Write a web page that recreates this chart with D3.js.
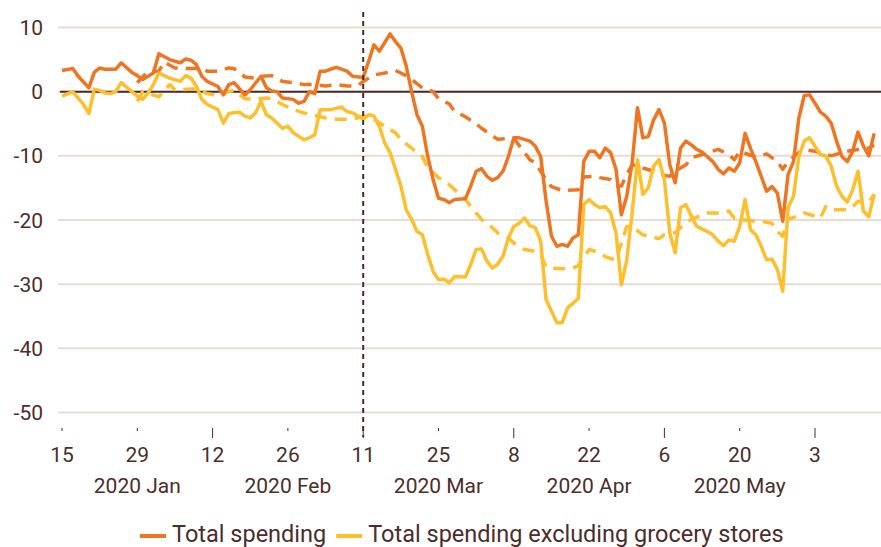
<!DOCTYPE html>
<html>
<head>
<meta charset="utf-8">
<script src="https://cdnjs.cloudflare.com/ajax/libs/d3/7.8.5/d3.min.js"></script>
<style>
  body { margin: 0; background: #fff; }
  svg { display: block; }
  text { font-family: Roboto, "Liberation Sans", sans-serif; fill: #4b2e2b; }
</style>
</head>
<body>
<script>
(function() {

    // day offsets are counted from 15 Jan 2020, values in %
    var totalSpending = [[0,3.3],[2,3.6],[3,2.4],[5,0.6],[6,3.0],[7,3.7],[8,3.5],[9,3.5],[10,3.5],[11,4.5],[13,3.0],[14,2.5],[15,1.9],[17,2.9],[18,5.9],[20,5.0],[22,4.5],[23,5.1],[24,4.9],[25,4.2],[26,2.4],[27,1.6],[29,0.8],[30,-0.5],[31,1.1],[32,1.4],[34,-0.5],[35,0.3],[37,2.4],[38,0.6],[39,0.1],[40,0],[41,-1.0],[43,-1.2],[44,-1.8],[45,-1.5],[46,0],[47,-0.3],[48,3.2],[49,3.2],[50,3.5],[51,3.8],[53,3.2],[54,2.4],[56,2.2],[57,4.7],[58,7.3],[59,6.3],[61,9.0],[62,7.8],[63,6.8],[64,4.0],[65,0],[66,-3.6],[67,-5.4],[68,-10.1],[69,-13.7],[70,-16.6],[71,-16.8],[72,-17.3],[73,-16.8],[75,-16.7],[76,-14.7],[77,-12.4],[78,-12.0],[79,-13.2],[80,-13.8],[81,-13.4],[82,-12.4],[83,-10.1],[84,-7.2],[85,-7.2],[87,-7.7],[88,-8.5],[89,-10.1],[90,-17.0],[91,-22.5],[92,-24.1],[93,-23.8],[94,-24.1],[95,-22.8],[96,-22.3],[97,-10.9],[98,-9.3],[99,-9.3],[100,-10.3],[101,-8.8],[102,-9.5],[103,-12.1],[104,-19.2],[105,-16.3],[106,-11.1],[107,-2.5],[108,-7.2],[109,-7.0],[110,-4.4],[111,-2.8],[112,-4.9],[113,-11.4],[114,-14.2],[115,-8.8],[116,-7.7],[117,-8.3],[118,-9.0],[119,-9.4],[121,-10.9],[122,-12.1],[123,-12.8],[124,-11.9],[125,-12.4],[126,-11.1],[127,-6.5],[128,-8.8],[129,-10.9],[130,-13.2],[131,-15.5],[132,-14.8],[133,-15.8],[134,-20.2],[135,-12.9],[136,-10.9],[137,-4.1],[138,-0.6],[139,-0.5],[140,-1.8],[141,-3.2],[142,-3.8],[143,-4.9],[144,-7.7],[145,-10.1],[146,-10.9],[147,-9.3],[148,-6.3],[149,-8.5],[150,-10.0],[151,-6.5]];

    var exGrocery = [[0,-0.7],[2,0.0],[3,-1.0],[4,-2.0],[5,-3.4],[6,0.4],[7,0.2],[8,-0.2],[9,-0.3],[10,0],[11,1.4],[13,0],[14,-0.7],[15,-1.2],[16,-0.2],[17,1.1],[18,2.9],[20,2.1],[22,1.6],[23,2.5],[24,2.1],[25,0.8],[26,-1.2],[27,-2.0],[29,-2.8],[30,-4.9],[31,-3.4],[32,-3.3],[33,-3.2],[34,-3.8],[35,-4.1],[36,-3.3],[37,-1.5],[38,-3.6],[39,-4.1],[41,-5.7],[42,-5.4],[43,-6.4],[45,-7.5],[46,-7.2],[47,-6.7],[48,-2.8],[49,-2.8],[50,-2.8],[52,-2.4],[53,-3.1],[54,-3.3],[55,-3.8],[56,-4.3],[57,-3.6],[58,-3.8],[59,-5.4],[60,-8.0],[61,-9.5],[62,-12.1],[63,-14.7],[64,-18.4],[65,-19.9],[66,-21.8],[67,-22.3],[68,-25.4],[69,-28.0],[70,-29.3],[71,-29.2],[72,-29.8],[73,-28.8],[75,-28.9],[76,-26.9],[77,-24.6],[78,-24.5],[79,-26.4],[80,-27.5],[81,-26.9],[82,-25.6],[83,-22.8],[84,-21.0],[85,-20.5],[86,-19.7],[87,-20.9],[88,-21.2],[89,-23.3],[90,-32.4],[91,-34.2],[92,-36.0],[93,-36.0],[94,-33.7],[95,-33.0],[96,-32.2],[97,-17.6],[98,-16.8],[99,-17.6],[100,-18.1],[101,-17.9],[102,-18.9],[103,-22.0],[104,-30.1],[105,-26.2],[106,-18.9],[107,-10.6],[108,-16.0],[109,-15.0],[110,-11.6],[111,-10.6],[112,-13.7],[113,-22.0],[114,-25.1],[115,-18.1],[116,-17.6],[117,-19.4],[118,-21.0],[120,-21.8],[121,-22.3],[122,-23.3],[123,-24.0],[124,-23.1],[125,-23.3],[126,-21.0],[127,-16.8],[128,-21.5],[129,-22.3],[130,-24.1],[131,-26.2],[132,-26.1],[133,-27.7],[134,-31.1],[135,-18.1],[136,-16.3],[137,-10.1],[138,-7.7],[139,-7.2],[140,-8.5],[141,-9.8],[142,-10.0],[143,-11.6],[144,-14.7],[145,-16.3],[146,-17.2],[147,-15.3],[148,-12.4],[149,-18.6],[150,-19.5],[151,-16.0]];

    var totalDashed = [[14,1.4],[16,3.2],[18,3.2],[19,4.6],[21,3.7],[23,3.6],[26,3.6],[27,3.2],[29,3.2],[31,3.7],[32,3.6],[34,2.3],[36,2.1],[37,2.4],[39,2.5],[41,1.6],[43,1.4],[45,1.1],[47,1.1],[49,0.9],[51,1.1],[53,0.9],[55,0.9],[56,1.6],[58,2.6],[60,2.9],[62,3.3],[64,2.5],[65,1.9],[67,0.6],[69,0],[70,-1.1],[72,-1.9],[73,-3.1],[75,-3.9],[77,-5.0],[78,-5.7],[80,-6.9],[81,-7.4],[84,-7.3],[86,-9.5],[87,-10.6],[88,-11.1],[90,-13.7],[91,-14.8],[93,-15.4],[96,-15.3],[97,-13.3],[99,-13.2],[100,-13.4],[102,-13.7],[103,-14.7],[104,-14.7],[105,-12.9],[106,-11.4],[107,-11.5],[108,-11.9],[110,-12.4],[111,-12.9],[113,-13.2],[114,-12.4],[116,-11.4],[117,-10.3],[119,-9.8],[120,-9.5],[122,-9.0],[124,-9.8],[125,-10.6],[126,-9.3],[129,-10.2],[131,-9.7],[133,-10.9],[134,-12.1],[135,-10.9],[137,-9.5],[138,-9.0],[140,-9.3],[141,-9.5],[143,-10.0],[145,-9.5],[146,-9.3],[148,-9.0],[150,-8.8],[151,-8.3]];

    var exGroceryDashed = [[14,-1.5],[15,0.0],[18,-0.8],[20,1.1],[21,0.3],[24,0.4],[25,0.4],[27,-0.3],[29,-0.6],[31,0],[32,0.2],[34,-1.1],[36,-1.2],[38,-1.0],[39,-1.1],[41,-2.0],[43,-2.8],[45,-3.3],[47,-3.7],[49,-4.1],[51,-4.3],[53,-4.3],[55,-4.1],[56,-3.8],[58,-4.3],[60,-5.4],[62,-6.4],[63,-7.5],[65,-8.8],[67,-10.1],[68,-11.9],[70,-13.4],[72,-14.5],[75,-16.8],[76,-17.9],[78,-19.9],[80,-21.2],[81,-22.0],[83,-22.8],[84,-23.6],[86,-24.6],[88,-24.9],[89,-25.4],[90,-27.3],[91,-27.5],[93,-27.6],[95,-27.5],[96,-27.1],[98,-24.6],[100,-25.1],[101,-25.7],[102,-26.0],[103,-26.2],[105,-21.0],[106,-21.0],[108,-22.3],[109,-22.5],[111,-22.9],[112,-22.3],[114,-22.0],[115,-21.2],[117,-19.9],[119,-19.2],[120,-18.9],[122,-18.9],[124,-18.6],[125,-19.7],[126,-19.9],[129,-20.2],[130,-20.2],[132,-20.5],[133,-21.8],[134,-22.5],[135,-19.9],[137,-19.3],[138,-18.9],[140,-19.4],[141,-19.7],[142,-17.9],[143,-18.4],[146,-18.4],[147,-17.9],[148,-17.1],[150,-17.2],[151,-16.0]];

    var yTicks = [10, 0, -10, -20, -30, -40, -50];
    var tickDays = [0, 14, 28, 42, 56, 70, 84, 98, 112, 126, 140];   // 15 Jan ... 3 Jun
    var majorTickDays = [28, 56, 84, 112, 140];
    var monthLabels = ["2020 Jan", "2020 Feb", "2020 Mar", "2020 Apr", "2020 May"];
    var monthLabelDays = [14, 42, 70, 98, 126];
    var lockdownDay = 56; // 11 Mar
    var legendNames = ["Total spending", "Total spending excluding grocery stores"];

    var orange = "#ee7623",
        yellow = "#fdbf2b",
        brown = "#4b2a2a",
        grid = "#e8dbd1";

    var width = 881, height = 547;
    var start = new Date(Date.UTC(2020, 0, 15));
    function day(d) { return d3.utcDay.offset(start, d); }

    var svg = d3.select("body").append("svg")
        .attr("width", width)
        .attr("height", height);

    var x = d3.scaleUtc()
        .domain([day(0), day(140)])
        .range([62, 815]);

    var y = d3.scaleLinear()
        .domain([-50, 10])
        .range([412.5, 27.5]);

    // gridlines
    svg.append("g").selectAll("line")
        .data(yTicks)
        .enter().append("line")
        .attr("x1", 58).attr("x2", width)
        .attr("y1", function(d){ return y(d); })
        .attr("y2", function(d){ return y(d); })
        .attr("stroke", grid)
        .attr("stroke-width", 2);

    svg.append("line")
        .attr("x1", 60).attr("x2", width)
        .attr("y1", y(0)).attr("y2", y(0))
        .attr("stroke", brown)
        .attr("stroke-width", 2);

    // y labels
    svg.append("g").selectAll("text")
        .data(yTicks)
        .enter().append("text")
        .attr("x", 43)
        .attr("y", function(d){ return y(d); })
        .attr("dy", "0.36em")
        .attr("text-anchor", "end")
        .style("font-size", "21px")
        .text(function(d){ return d; });

    // x ticks
    svg.append("g").selectAll("line")
        .data(tickDays)
        .enter().append("line")
        .attr("x1", function(d){ return x(day(d)); })
        .attr("x2", function(d){ return x(day(d)); })
        .attr("y1", 428)
        .attr("y2", function(d){ return majorTickDays.indexOf(d) >= 0 ? 438 : 431; })
        .attr("stroke", brown)
        .attr("stroke-width", 1);

    svg.append("g").selectAll("text")
        .data(tickDays)
        .enter().append("text")
        .attr("x", function(d){ return x(day(d)); })
        .attr("y", 462)
        .attr("text-anchor", "middle")
        .style("font-size", "21px")
        .text(function(d){ return d3.utcFormat("%-d")(day(d)); });

    svg.append("g").selectAll("text")
        .data(monthLabels)
        .enter().append("text")
        .attr("x", function(d, i){ return x(day(monthLabelDays[i])); })
        .attr("y", 493)
        .attr("text-anchor", "middle")
        .style("font-size", "21px")
        .text(function(d){ return d; });

    // lines
    var line = d3.line()
        .x(function(d){ return x(day(d[0])); })
        .y(function(d){ return y(d[1]); });

    var series = [
        {data: exGroceryDashed, color: yellow, dash: "12,8"},
        {data: totalDashed, color: orange, dash: "12,8"},
        {data: exGrocery, color: yellow, dash: null},
        {data: totalSpending, color: orange, dash: null}
    ];

    svg.append("g").selectAll("path")
        .data(series)
        .enter().append("path")
        .attr("d", function(d){ return line(d.data); })
        .attr("fill", "none")
        .attr("stroke", function(d){ return d.color; })
        .attr("stroke-width", 3.5)
        .attr("stroke-linejoin", "round")
        .attr("stroke-dasharray", function(d){ return d.dash; });

    // 11 March marker
    svg.append("line")
        .attr("x1", x(day(lockdownDay))).attr("x2", x(day(lockdownDay)))
        .attr("y1", 12).attr("y2", 437)
        .attr("stroke", brown)
        .attr("stroke-width", 2)
        .attr("stroke-dasharray", "5,4");

    // legend
    var legend = svg.append("g");
    var lx = 140;
    legendNames.forEach(function(name, i){
        legend.append("line")
            .attr("x1", lx).attr("x2", lx + 26)
            .attr("y1", 536).attr("y2", 536)
            .attr("stroke", i == 0 ? orange : yellow)
            .attr("stroke-width", 4);
        var t = legend.append("text")
            .attr("x", lx + 32)
            .attr("y", 542)
            .style("font-size", "23.5px")
            .text(name);
        lx = lx + 32 + t.node().getComputedTextLength() + 10;
    });

})();
</script>
</body>
</html>
